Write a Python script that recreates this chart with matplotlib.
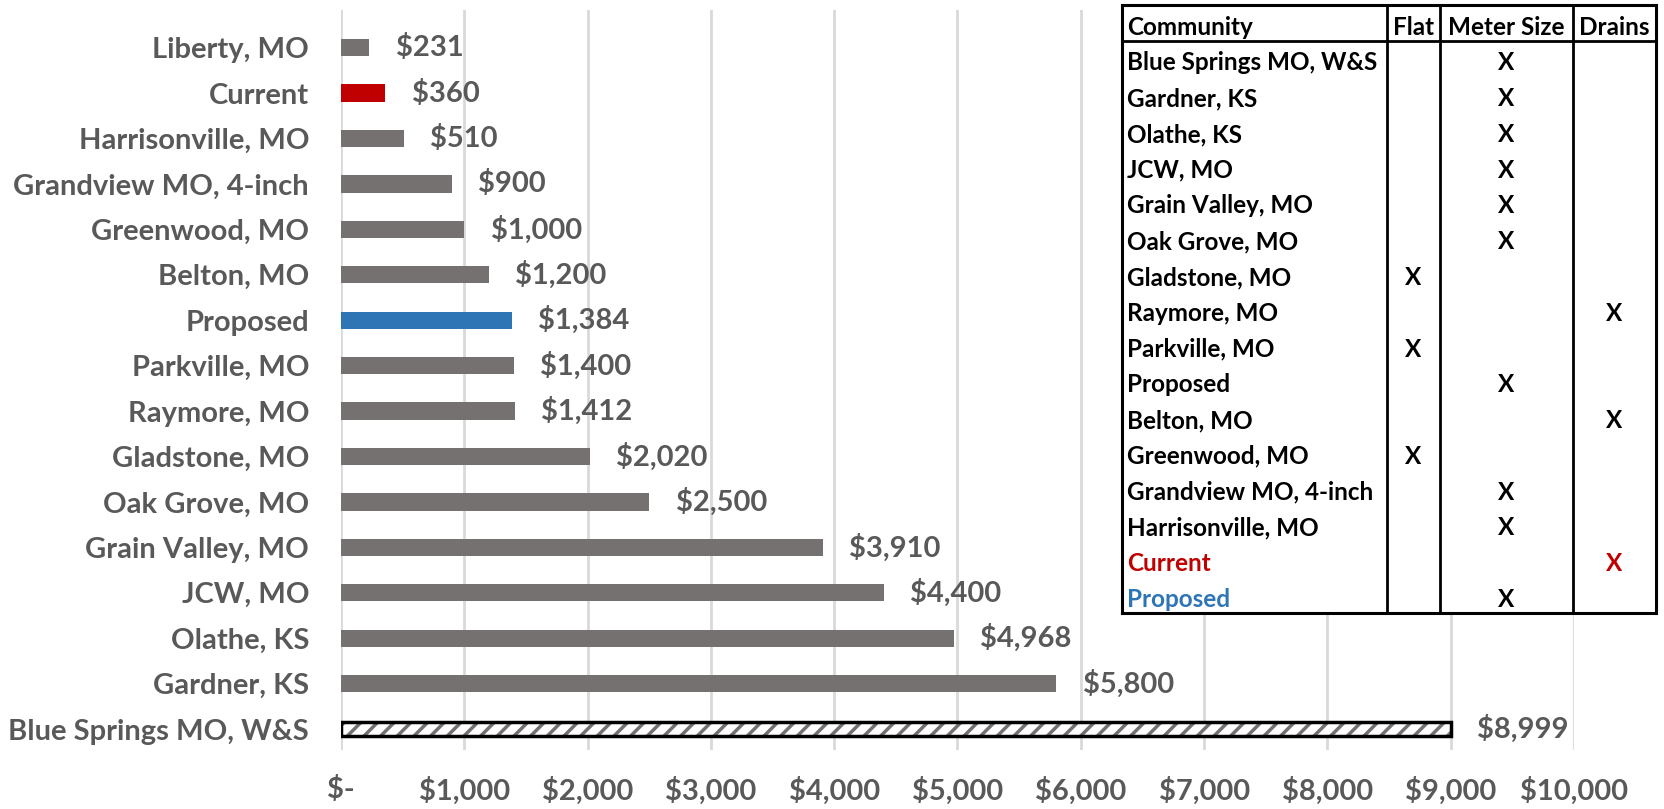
import numpy as np
import matplotlib.pyplot as plt
from matplotlib.lines import Line2D

# chart data, top to bottom
names = ["Liberty, MO", "Current", "Harrisonville, MO", "Grandview MO, 4-inch",
         "Greenwood, MO", "Belton, MO", "Proposed", "Parkville, MO", "Raymore, MO",
         "Gladstone, MO", "Oak Grove, MO", "Grain Valley, MO", "JCW, MO",
         "Olathe, KS", "Gardner, KS", "Blue Springs MO, W&S"]
fees = [231, 360, 510, 900, 1000, 1200, 1384, 1400, 1412, 2020, 2500,
        3910, 4400, 4968, 5800, 8999]
xticks = [0, 1000, 2000, 3000, 4000, 5000, 6000, 7000, 8000, 9000, 10000]

# table data
tbl_header = ["Community", "Flat", "Meter Size", "Drains"]
tbl_rows = ["Blue Springs MO, W&S", "Gardner, KS", "Olathe, KS", "JCW, MO",
            "Grain Valley, MO", "Oak Grove, MO", "Gladstone, MO", "Raymore, MO",
            "Parkville, MO", "Proposed", "Belton, MO", "Greenwood, MO",
            "Grandview MO, 4-inch", "Harrisonville, MO", "Current", "Proposed"]
tbl_method = [2, 2, 2, 2, 2, 2, 1, 3, 1, 2, 3, 1, 2, 2, 3, 2]  # column index with X
tbl_color = ["black"] * 14 + ["#C00000", "#2E75B6"]
tbl_xcolor = ["black"] * 14 + ["#C00000", "black"]

GREY = "#767171"
TXT = "#595959"
plt.rcParams['font.family'] = ['Lato', 'DejaVu Sans']

fig = plt.figure(figsize=(16.64, 8.09), dpi=100)
W, H = 1664, 809
ax = fig.add_axes([341 / W, 1 - 750 / H, (1574 - 341) / W, 740 / H])

y = np.arange(len(names))
colors = [GREY] * len(names)
colors[1] = "#C00000"
colors[6] = "#2E75B6"
ax.barh(y[:-1], fees[:-1], height=0.38, color=colors[:-1], zorder=3)
# hatched bar: grey hatch on white, then black outline on top
plt.rcParams['hatch.linewidth'] = 2.5
ax.barh(y[-1], fees[-1], height=0.3, color="white", edgecolor=GREY,
        linewidth=0, hatch="//", zorder=3)
ax.barh(y[-1], fees[-1], height=0.3, fill=False, edgecolor="black",
        linewidth=2.5, zorder=4)

for yi, v in zip(y, fees):
    ax.annotate(f"${v:,}", (v, yi), xytext=(19, 0), textcoords="offset points",
                va="center", ha="left", fontsize=21, fontweight="bold", color=TXT)

ax.set_ylim(15.46, -0.83)
ax.set_xlim(0, 10000)
ax.set_yticks(y)
ax.set_yticklabels(names)
ax.set_xticks(xticks)
ax.set_xticklabels(["$-" if t == 0 else f"${t:,}" for t in xticks])
ax.tick_params(axis="both", length=0, labelsize=21, labelcolor=TXT)
ax.tick_params(axis="y", pad=23)
ax.tick_params(axis="x", pad=19)
for lab in ax.get_xticklabels() + ax.get_yticklabels():
    lab.set_fontweight("bold")
ax.grid(axis="x", color="#D9D9D9", linewidth=2, zorder=0)
for s in ax.spines.values():
    s.set_visible(False)

# table drawn on its own axes
tx0, tx1, ty0, ty1 = 1122, 1656, 5, 613
tax = fig.add_axes([tx0 / W, 1 - ty1 / H, (tx1 - tx0) / W, (ty1 - ty0) / H])
nrow = len(tbl_rows) + 1
tax.set_xlim(0, tx1 - tx0)
tax.set_ylim(nrow, 0)
tax.set_facecolor("white")
tax.set_xticks([])
tax.set_yticks([])
for s in tax.spines.values():
    s.set_linewidth(2.2)
    s.set_color("black")
col_edges = [0, 265, 318, 451, 534]
for cx in col_edges[1:-1]:
    tax.add_line(Line2D([cx, cx], [0, nrow], color="black", lw=2))
tax.add_line(Line2D([0, col_edges[-1]], [1, 1], color="black", lw=2))

fs = 17.5
dy = 0.62
tax.text(5, dy, tbl_header[0], va="center", ha="left", fontsize=fs, fontweight="bold")
for j in range(1, 4):
    tax.text((col_edges[j] + col_edges[j + 1]) / 2, dy, tbl_header[j],
             va="center", ha="center", fontsize=fs, fontweight="bold")
for i, (nm, m, c, xc) in enumerate(zip(tbl_rows, tbl_method, tbl_color, tbl_xcolor)):
    tax.text(5, i + 1 + dy, nm, va="center", ha="left", fontsize=fs,
             fontweight="bold", color=c)
    tax.text((col_edges[m] + col_edges[m + 1]) / 2, i + 1 + dy, "X", va="center",
             ha="center", fontsize=fs, fontweight="bold", color=xc)

fig.savefig("out.png", dpi=100)
